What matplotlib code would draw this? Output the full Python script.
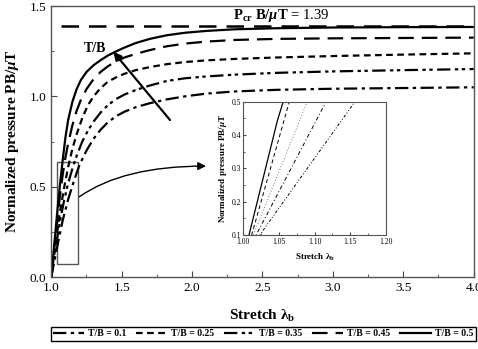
import matplotlib
matplotlib.use("Agg")
import matplotlib.pyplot as plt
from matplotlib.patches import Rectangle

plt.rcParams['font.family'] = ['Liberation Serif', 'DejaVu Serif']
plt.rcParams['mathtext.fontset'] = 'custom'
plt.rcParams['mathtext.rm'] = 'Liberation Serif'
plt.rcParams['mathtext.it'] = 'Liberation Serif:italic'
plt.rcParams['mathtext.bf'] = 'Liberation Serif:bold'
plt.rcParams['mathtext.bfit'] = 'Liberation Serif:italic:bold'

# ---------------- data ----------------
labels = ["T/B = 0.1", "T/B = 0.25", "T/B = 0.35", "T/B = 0.45", "T/B = 0.5"]

stretch_01 = [1.00, 1.04, 1.08, 1.12, 1.16, 1.20, 1.25, 1.30, 1.35, 1.40, 1.46, 1.52, 1.60, 1.70,
              1.82, 1.95, 2.10, 2.30, 2.60, 3.00, 3.50, 4.00]
pressure_01 = [0.00, 0.16, 0.31, 0.43, 0.53, 0.62, 0.70, 0.765, 0.815, 0.855, 0.89, 0.915, 0.94, 0.962,
               0.983, 1.0, 1.015, 1.027, 1.036, 1.042, 1.046, 1.05]

stretch_025 = [1.00, 1.03, 1.06, 1.09, 1.12, 1.15, 1.18, 1.22, 1.26, 1.30, 1.35, 1.40, 1.46, 1.52,
               1.60, 1.70, 1.82, 1.95, 2.10, 2.30, 2.60, 3.00, 3.50, 4.00]
pressure_025 = [0.00, 0.18, 0.35, 0.49, 0.61, 0.71, 0.79, 0.88, 0.95, 1.00, 1.045, 1.08, 1.105, 1.125,
                1.145, 1.162, 1.178, 1.19, 1.199, 1.207, 1.215, 1.223, 1.231, 1.238]

stretch_035 = [1.00, 1.03, 1.06, 1.09, 1.12, 1.15, 1.18, 1.22, 1.26, 1.30, 1.35, 1.40, 1.46, 1.52,
               1.60, 1.70, 1.82, 1.95, 2.10, 2.30, 2.60, 3.00, 3.50, 4.00]
pressure_035 = [0.00, 0.16, 0.30, 0.42, 0.52, 0.60, 0.67, 0.75, 0.81, 0.86, 0.91, 0.95, 0.985, 1.01,
                1.035, 1.06, 1.085, 1.10, 1.11, 1.12, 1.13, 1.138, 1.145, 1.151]

stretch_045 = [1.00, 1.02, 1.04, 1.06, 1.08, 1.10, 1.12, 1.15, 1.18, 1.21, 1.25, 1.30, 1.35, 1.40,
               1.45, 1.52, 1.60, 1.70, 1.82, 1.95, 2.10, 2.30, 2.60, 3.00, 3.50, 4.00]
pressure_045 = [0.00, 0.15, 0.30, 0.44, 0.56, 0.66, 0.74, 0.84, 0.92, 0.98, 1.04, 1.095, 1.135, 1.165,
                1.19, 1.215, 1.235, 1.256, 1.277, 1.292, 1.303, 1.312, 1.318, 1.321, 1.323, 1.325]

stretch_05 = [1.00, 1.02, 1.04, 1.06, 1.08, 1.10, 1.12, 1.15, 1.18, 1.21, 1.25, 1.30, 1.35, 1.40,
              1.45, 1.52, 1.60, 1.70, 1.82, 1.95, 2.10, 2.30, 2.60, 3.00, 3.50, 4.00]
pressure_05 = [0.00, 0.17, 0.34, 0.50, 0.64, 0.77, 0.87, 0.97, 1.04, 1.09, 1.135, 1.172, 1.20, 1.225,
               1.245, 1.27, 1.295, 1.318, 1.338, 1.352, 1.362, 1.371, 1.377, 1.381, 1.383, 1.384]

critical_stretch = [1.07, 4.0]
critical_pressure = [1.39, 1.39]

# inset (zoomed) readings
inset_stretch_05 = [1.0, 1.008, 1.048, 1.056]
inset_pressure_05 = [0.03, 0.1, 0.445, 0.5]
inset_stretch_045 = [1.0, 1.0117, 1.0645]
inset_pressure_045 = [0.0, 0.1, 0.5]
inset_stretch_025 = [1.0, 1.014, 1.0897]
inset_pressure_025 = [0.0, 0.1, 0.5]
inset_stretch_035 = [1.0, 1.018, 1.116]
inset_pressure_035 = [0.0, 0.1, 0.5]
inset_stretch_01 = [1.0, 1.023, 1.1565]
inset_pressure_01 = [0.0, 0.1, 0.5]

# ---------------- figure ----------------
fig = plt.figure(figsize=(4.78, 3.49), dpi=100)
ax = fig.add_axes([0.1073, 0.2063, 0.8837, 0.7765])

lw = 1.6
styles = {
    "T/B = 0.1": dict(color='k', lw=lw, dashes=(6.0, 2.0, 1.5, 2.0)),
    "T/B = 0.25": dict(color='k', lw=lw, dashes=(3.0, 2.0)),
    "T/B = 0.35": dict(color='k', lw=lw, dashes=(6.0, 2.0, 1.5, 1.6, 1.5, 2.0)),
    "T/B = 0.45": dict(color='k', lw=lw, dashes=(7.0, 3.6)),
    "T/B = 0.5": dict(color='k', lw=lw, linestyle='-'),
}
series = {
    "T/B = 0.1": (stretch_01, pressure_01),
    "T/B = 0.25": (stretch_025, pressure_025),
    "T/B = 0.35": (stretch_035, pressure_035),
    "T/B = 0.45": (stretch_045, pressure_045),
    "T/B = 0.5": (stretch_05, pressure_05),
}
handles = []
for lab in labels:
    xs, ys = series[lab]
    h, = ax.plot(xs, ys, label=lab, **styles[lab])
    handles.append(h)

ax.plot(critical_stretch, critical_pressure, color='k', lw=1.8, dashes=(7.0, 4.0))

ax.set_xlim(1.0, 4.0)
ax.set_ylim(0.0, 1.5)
ax.set_xticks([1.0, 1.5, 2.0, 2.5, 3.0, 3.5, 4.0])
ax.set_xticks([1.25, 1.75, 2.25, 2.75, 3.25, 3.75], minor=True)
ax.set_yticks([0.0, 0.5, 1.0, 1.5])
ax.set_yticks([0.25, 0.75, 1.25], minor=True)
ax.tick_params(which='both', direction='in', labelsize=9.5, color='#444444')
ax.tick_params(which='major', length=4)
ax.tick_params(which='minor', length=2.5)
for sp in ax.spines.values():
    sp.set_color('#555555')
    sp.set_linewidth(1.0)

ax.set_xlabel(r"Stretch $\mathbf{\lambda_b}$", fontsize=11, fontweight='bold', labelpad=10)
ax.set_ylabel(r"Normalized pressure PB/$\boldsymbol{\mu}$T", fontsize=11, fontweight='bold', labelpad=6)

ax.text(2.29, 1.45, r"$\mathbf{P_{cr}}$ $\mathbf{B/}\boldsymbol{\mu}\mathbf{T}$ = 1.39", fontsize=10.5,
        va='center', ha='left')

# T/B arrow
ax.annotate("", xy=(1.44, 1.247), xytext=(1.843, 0.869),
            arrowprops=dict(arrowstyle='-|>', color='k', lw=1.6, mutation_scale=12, shrinkA=0, shrinkB=0))
ax.text(1.31, 1.267, "T/B", fontsize=10, fontweight='bold', ha='center', va='center')

# zoom rectangle
ax.add_patch(Rectangle((1.038, 0.07), 0.154, 0.568, fill=False, edgecolor='#555555', lw=1.0))
ax.annotate("", xy=(2.099, 0.614), xytext=(1.199, 0.444),
            arrowprops=dict(arrowstyle='-|>', color='k', lw=1.0, mutation_scale=12,
                            connectionstyle='angle3,angleA=35,angleB=0', shrinkA=0, shrinkB=0))

# inset
axi = fig.add_axes([0.509, 0.3266, 0.2985, 0.382])
ilw = 0.7
axi.plot(inset_stretch_05, inset_pressure_05, color='k', lw=0.9, linestyle='-')
axi.plot(inset_stretch_045, inset_pressure_045, color='k', lw=ilw, dashes=(4, 3))
axi.plot(inset_stretch_025, inset_pressure_025, color='#777777', lw=ilw, dashes=(1, 2))
axi.plot(inset_stretch_035, inset_pressure_035, color='k', lw=ilw, dashes=(4, 2.5, 1, 2.5))
axi.plot(inset_stretch_01, inset_pressure_01, color='k', lw=ilw, dashes=(3, 2, 1, 2, 1, 2))
axi.set_xlim(1.0, 1.2)
axi.set_ylim(0.1, 0.5)
axi.set_xticks([1.00, 1.05, 1.10, 1.15, 1.20])
axi.set_xticklabels(["1.00", "1.05", "1.10", "1.15", "1.20"])
axi.set_yticks([0.1, 0.2, 0.3, 0.4, 0.5])
axi.set_xticks([1.025, 1.075, 1.125, 1.175], minor=True)
axi.set_yticks([0.15, 0.25, 0.35, 0.45], minor=True)
axi.tick_params(which='both', direction='in', labelsize=5.5, color='#444444')
axi.tick_params(axis='x', pad=2.5)
axi.tick_params(axis='y', pad=1.5)
axi.tick_params(which='major', length=2.5)
axi.tick_params(which='minor', length=1.5)
for sp in axi.spines.values():
    sp.set_color('#555555')
    sp.set_linewidth(0.8)
axi.set_xlabel(r"Stretch $\mathbf{\lambda_b}$", fontsize=6.5, fontweight='bold', labelpad=3.5)
axi.set_ylabel(r"Normalized pressure PB/$\boldsymbol{\mu}$T", fontsize=6.5, fontweight='bold', labelpad=2)

leg = fig.legend(handles, labels, loc='center', bbox_to_anchor=(0.551, 0.043), ncol=5,
                 frameon=True, fancybox=False, edgecolor='k', framealpha=1,
                 prop={'family': 'Liberation Serif', 'weight': 'bold', 'size': 7},
                 handlelength=3.2, columnspacing=1.0, handletextpad=0.4, borderpad=0.25,
                 borderaxespad=0)
leg.get_frame().set_linewidth(1.0)

fig.savefig("out.png", dpi=100)
